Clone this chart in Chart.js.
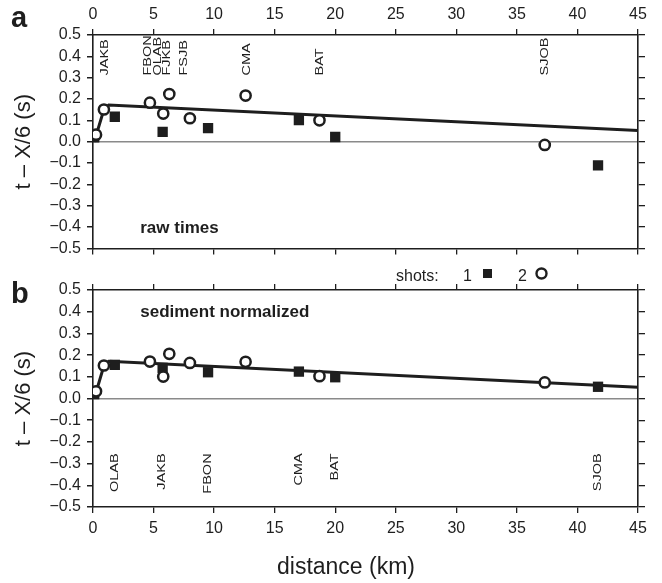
<!DOCTYPE html>
<html>
<head>
<meta charset="utf-8">
<script src="https://cdn.jsdelivr.net/npm/chart.js@4.4.1/dist/chart.umd.min.js"></script>
<style>
  html, body { margin: 0; padding: 0; background: #fff; }
  #wrap { position: relative; width: 662px; height: 583px; }
  #top { position: absolute; left: 0; top: 0; }
  #bottom { position: absolute; left: 0; top: 264px; }
</style>
</head>
<body>
<div id="wrap">
  <canvas id="top" width="662" height="264"></canvas>
  <canvas id="bottom" width="662" height="319"></canvas>
</div>
<script>
// shot 1 (filled squares) and shot 2 (open circles), distance in km
const distShot1 = [0.1, 1.8, 5.75, 9.5, 17.0, 20.0, 41.7];
const rawShot1 = [0.02, 0.117, 0.046, 0.064, 0.101, 0.022, -0.111];
const normShot1 = [0.02, 0.155, 0.141, 0.121, 0.124, 0.098, 0.054];

const distShot2 = [0.25, 0.9, 4.7, 5.8, 6.3, 8.0, 12.6, 18.7, 37.3];
const rawShot2 = [0.033, 0.151, 0.183, 0.132, 0.223, 0.11, 0.216, 0.10, -0.015];
const normShot2 = [0.033, 0.152, 0.17, 0.101, 0.206, 0.164, 0.169, 0.103, 0.074];

// fitted travel-time curve
const fitDist = [0.1, 0.9, 1.3, 45];
const fitTime = [0.0, 0.151, 0.172, 0.052];

// station names
const rawStations = ['JAKB', 'FBON', 'OLAB', 'FJKB', 'FSJB', 'CMA', 'BAT', 'SJOB'];
const rawStationDist = [0.95, 4.5, 5.35, 6.1, 7.5, 12.7, 18.7, 37.3];
const normStations = ['OLAB', 'JAKB', 'FBON', 'CMA', 'BAT', 'SJOB'];
const normStationDist = [1.8, 5.7, 9.5, 17.0, 20.0, 41.7];

const INK = '#1e1e1e';
const FONT = "'Liberation Sans', Arial, Helvetica, sans-serif";
Chart.defaults.font.family = FONT;
Chart.defaults.color = INK;

const pts = (xs, ys) => xs.map((x, i) => ({ x: x, y: ys[i] }));

function yLabel(v) {
  if (Math.abs(v) < 1e-9) return '0.0';
  return (v < 0 ? '\u2212' : '') + Math.abs(v).toFixed(1);
}

function makeScales(labelsOnTop, topH, bottomH) {
  const grid = { drawOnChartArea: false, tickLength: 6, color: INK, lineWidth: 1.3 };
  const border = { color: INK, width: 1.6 };
  return {
    x: {
      type: 'linear', position: labelsOnTop ? 'top' : 'bottom', min: 0, max: 45,
      ticks: { stepSize: 5, autoSkip: false, maxRotation: 0, font: { size: 16 }, padding: labelsOnTop ? 5 : 6, color: INK },
      grid: grid, border: border,
      afterFit: s => { s.height = labelsOnTop ? topH : bottomH; }
    },
    x2: {
      type: 'linear', position: labelsOnTop ? 'bottom' : 'top', min: 0, max: 45,
      ticks: { stepSize: 5, autoSkip: false, display: false },
      grid: grid, border: border,
      afterFit: s => { s.height = labelsOnTop ? bottomH : topH; }
    },
    y: {
      type: 'linear', position: 'left', min: -0.5, max: 0.5,
      ticks: { stepSize: 0.1, autoSkip: false, font: { size: 16 }, padding: 6, color: INK, callback: yLabel },
      grid: {
        color: c => (c.tick && Math.abs(c.tick.value) < 1e-9) ? '#8a8a8a' : 'rgba(0,0,0,0)',
        tickColor: INK, tickLength: 6, lineWidth: 1.5
      },
      border: border,
      title: { display: true, text: 't \u2013 X/6 (s)', font: { size: 22 }, color: INK, padding: { top: 11, bottom: 0 } },
      afterFit: s => { s.width = 93; }
    },
    y2: {
      type: 'linear', position: 'right', min: -0.5, max: 0.5,
      ticks: { stepSize: 0.1, autoSkip: false, display: false },
      grid: { drawOnChartArea: false, tickLength: 7, color: INK, lineWidth: 1.3 },
      border: border,
      afterFit: s => { s.width = 24; }
    }
  };
}

function makeDatasets(s1, s2) {
  return [
    {
      label: 'shot 2', data: pts(distShot2, s2), order: 0, clip: 0,
      pointStyle: 'circle', pointRadius: 5.1, pointBorderWidth: 2.5,
      pointBackgroundColor: '#fff', pointBorderColor: INK, showLine: false
    },
    {
      label: 'shot 1', data: pts(distShot1, s1), order: 1, clip: 0,
      pointStyle: 'rect', pointRadius: 7.3, pointBorderWidth: 0,
      pointBackgroundColor: INK, pointBorderColor: INK, showLine: false
    },
    {
      label: 'fit', data: pts(fitDist, fitTime), order: 2, clip: 0,
      showLine: true, borderColor: INK, borderWidth: 3, pointRadius: 0, tension: 0
    }
  ];
}

function stationPlugin(names, dists, yVal, align) {
  return {
    id: 'stations',
    afterDatasetsDraw(chart) {
      const { ctx, scales: { x, y } } = chart;
      ctx.save();
      ctx.fillStyle = INK;
      ctx.font = '14.5px ' + FONT;
      ctx.textBaseline = 'middle';
      ctx.textAlign = align;
      names.forEach((name, i) => {
        ctx.save();
        ctx.translate(x.getPixelForValue(dists[i]), y.getPixelForValue(yVal));
        ctx.rotate(-Math.PI / 2);
        ctx.scale(1, 0.8);  // narrow lettering as in the original figure
        ctx.fillText(name, 0, 0);
        ctx.restore();
      });
      ctx.restore();
    }
  };
}

function notePlugin(letter, letterY, note, noteX, noteY) {
  return {
    id: 'notes',
    afterDraw(chart) {
      const { ctx, scales: { x, y } } = chart;
      ctx.save();
      ctx.fillStyle = INK;
      ctx.textAlign = 'left';
      ctx.textBaseline = 'alphabetic';
      ctx.font = 'bold 29px ' + FONT;
      ctx.fillText(letter, 11, letterY);
      ctx.font = 'bold 17px ' + FONT;
      ctx.textBaseline = 'middle';
      ctx.fillText(note, x.getPixelForValue(noteX), y.getPixelForValue(noteY));
      ctx.restore();
    }
  };
}

// legend between the panels + x axis title, drawn on the lower canvas
const legendPlugin = {
  id: 'shotsLegend',
  afterDraw(chart) {
    const ctx = chart.ctx;
    ctx.save();
    ctx.fillStyle = INK;
    ctx.font = '16px ' + FONT;
    ctx.textBaseline = 'alphabetic';
    ctx.textAlign = 'left';
    ctx.fillText('shots:', 396, 17);
    ctx.fillText('1', 463, 17);
    ctx.fillText('2', 518, 17);
    ctx.fillRect(483, 5, 9, 9);
    ctx.beginPath();
    ctx.arc(541.5, 9.5, 5, 0, Math.PI * 2);
    ctx.fillStyle = '#fff';
    ctx.fill();
    ctx.lineWidth = 2.4;
    ctx.strokeStyle = INK;
    ctx.stroke();
    ctx.fillStyle = INK;
    ctx.font = '23px ' + FONT;
    ctx.textAlign = 'center';
    ctx.fillText('distance (km)', 346, 310);
    ctx.restore();
  }
};

const common = {
  responsive: false,
  animation: false,
  layout: { padding: 0 },
  plugins: { legend: { display: false }, tooltip: { enabled: false } }
};

new Chart(document.getElementById('top').getContext('2d'), {
  type: 'scatter',
  data: { datasets: makeDatasets(rawShot1, rawShot2) },
  options: Object.assign({}, common, { scales: makeScales(true, 35, 11) }),
  plugins: [
    stationPlugin(rawStations, rawStationDist, 0.31, 'left'),
    notePlugin('a', 27, 'raw times', 3.9, -0.405)
  ]
});

new Chart(document.getElementById('bottom').getContext('2d'), {
  type: 'scatter',
  data: { datasets: makeDatasets(normShot1, normShot2) },
  options: Object.assign({}, common, { scales: makeScales(false, 26, 76) }),
  plugins: [
    stationPlugin(normStations, normStationDist, -0.253, 'right'),
    notePlugin('b', 39, 'sediment normalized', 3.9, 0.396),
    legendPlugin
  ]
});
</script>
</body>
</html>
